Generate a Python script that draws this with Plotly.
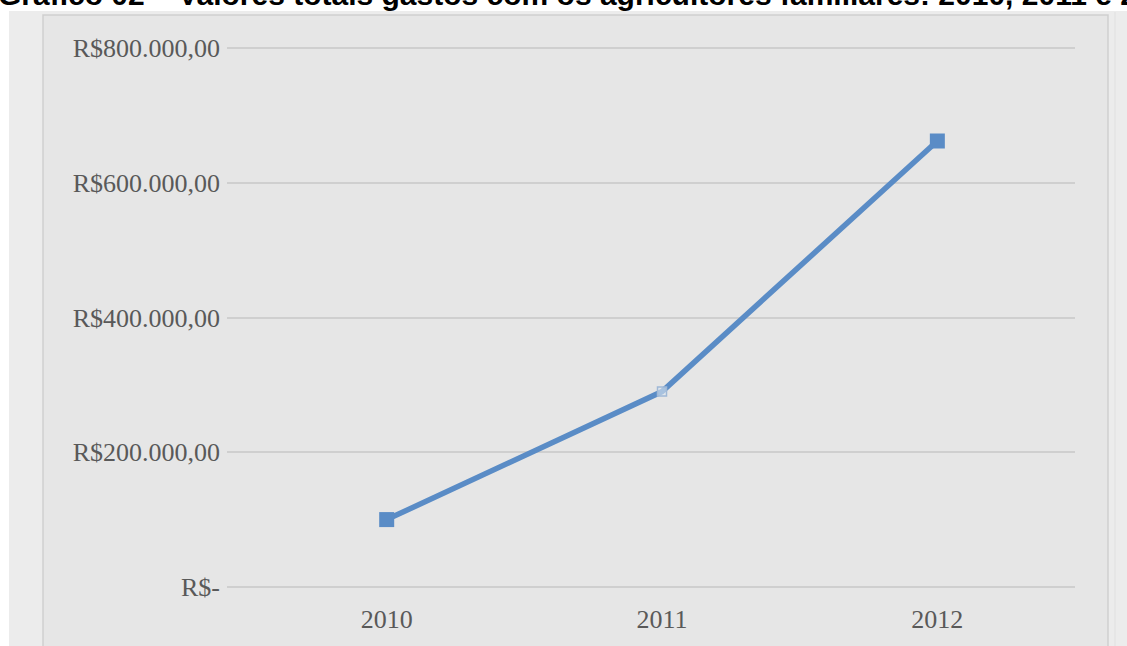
import plotly.graph_objects as go

years = ["2010", "2011", "2012"]
values = [100000, 290000, 662000]
y_ticks = [0, 200000, 400000, 600000, 800000]
y_labels = ["R$-", "R$200.000,00", "R$400.000,00", "R$600.000,00", "R$800.000,00"]
title = "Gráfico 02 – Valores totais gastos com os agricultores familiares: 2010, 2011 e 2012"

W, H = 1127, 646
L, R, T, B = 227, 52, 44, 55
PW, PH = W - L - R, H - T - B

def px(x):
    return (x - L) / PW

def py(y):
    return (H - B - y) / PH

BLUE = "#5a8cc6"

fig = go.Figure()
fig.add_trace(go.Scatter(
    x=[0, 1, 2], y=values, mode="lines+markers",
    line=dict(color=BLUE, width=5.5),
    marker=dict(symbol="square", size=[15, 0, 15], color=BLUE, opacity=1, line=dict(width=0)),
    showlegend=False, cliponaxis=False, hoverinfo="skip",
))
fig.add_trace(go.Scatter(
    x=[1], y=[values[1]], mode="markers",
    marker=dict(symbol="square", size=9, color="rgba(220,230,240,0.6)", opacity=1,
                line=dict(width=1.5, color="#9fb8d6")),
    showlegend=False, cliponaxis=False, hoverinfo="skip",
))

shapes = [
    dict(type="rect", xref="paper", yref="paper", x0=px(9), x1=px(1140), y0=py(660), y1=py(11),
         fillcolor="#ececec", line=dict(width=0), layer="below"),
    dict(type="rect", xref="paper", yref="paper", x0=px(43), x1=px(1108), y0=py(660), y1=py(15),
         fillcolor="#e6e6e6", line=dict(width=1.5, color="#cfcfcf"), layer="below"),
    dict(type="line", xref="paper", yref="paper", x0=px(1115), x1=px(1115), y0=py(660), y1=py(12),
         line=dict(width=1, color="#e0e0e0"), layer="below"),
]

fig.update_layout(
    width=W, height=H,
    margin=dict(l=L, r=R, t=T, b=B, autoexpand=False),
    paper_bgcolor="white", plot_bgcolor="rgba(0,0,0,0)",
    shapes=shapes,
    xaxis=dict(range=[-0.58, 2.5], tickvals=[0, 1, 2], ticktext=years, showgrid=False,
               zeroline=False, showline=False, ticks="", ticklabelstandoff=10, automargin=False,
               tickfont=dict(family="Liberation Serif", size=26, color="#595959")),
    yaxis=dict(range=[-6000, 806000], tickvals=y_ticks, ticktext=y_labels, showgrid=True,
               gridcolor="#cfcfcf", gridwidth=1.5, zeroline=False, showline=False, ticks="",
               ticklabelstandoff=6, automargin=False,
               tickfont=dict(family="Liberation Serif", size=26, color="#595959")),
    annotations=[dict(text="<b>" + title + "</b>", xref="paper", yref="paper",
                      x=px(-4), y=py(13), xanchor="left", yanchor="bottom", showarrow=False,
                      font=dict(family="Liberation Sans", size=30, color="black"))],
)

fig.write_html("out.html", config={"displayModeBar": False},
               post_script="document.body.style.margin='0px';")
